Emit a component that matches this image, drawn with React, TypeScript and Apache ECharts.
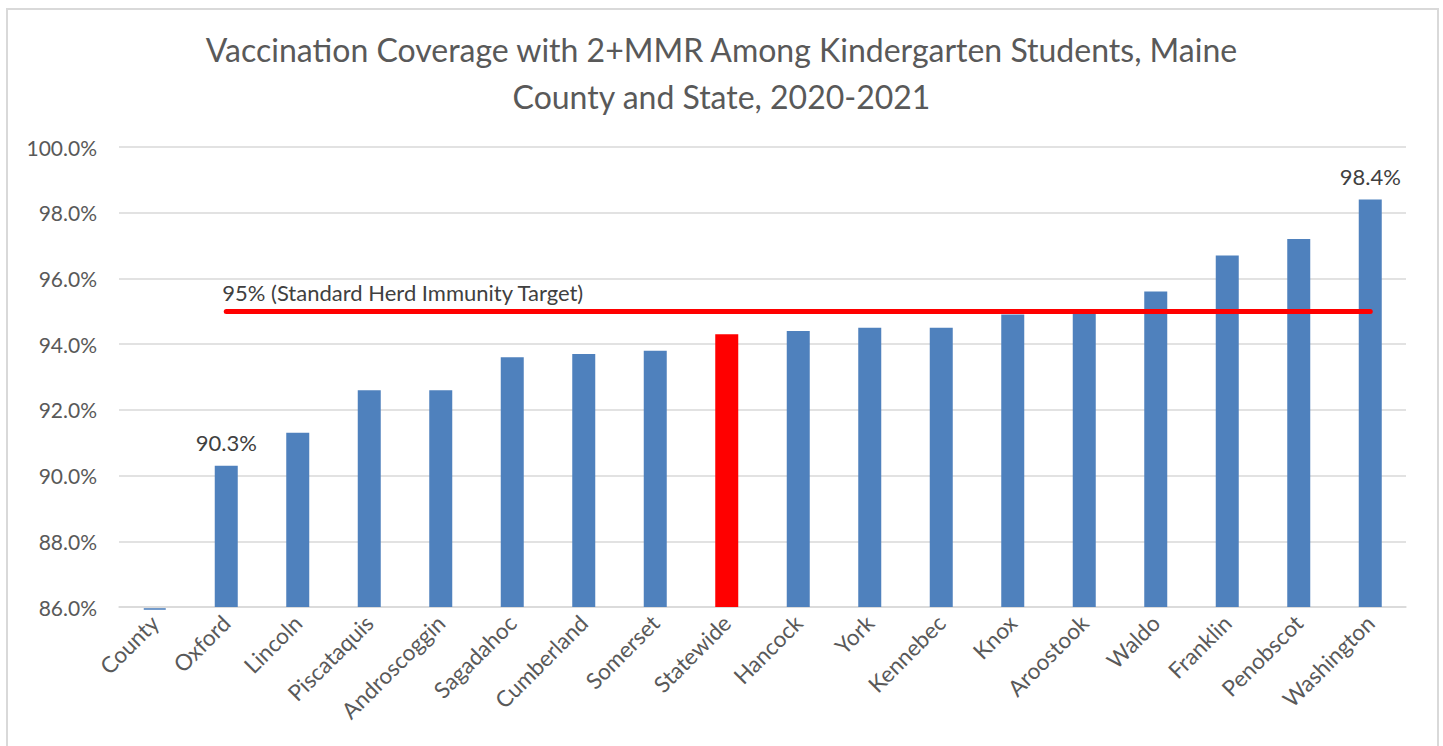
import React, { useEffect, useRef } from "react";
import * as echarts from "echarts";

const categories = [
  "County", "Oxford", "Lincoln", "Piscataquis", "Androscoggin", "Sagadahoc",
  "Cumberland", "Somerset", "Statewide", "Hancock", "York", "Kennebec",
  "Knox", "Aroostook", "Waldo", "Franklin", "Penobscot", "Washington",
];
const coverage = [
  85.94, 90.3, 91.3, 92.6, 92.6, 93.6, 93.7, 93.8, 94.3, 94.4, 94.5, 94.5,
  94.9, 95.0, 95.6, 96.7, 97.2, 98.4,
];
const yMin = 86;
const yMax = 100;
const yStep = 2;
const labeledBars = ["Oxford", "Washington"];
const highlightBar = "Statewide";
const targetValue = 95;
const targetLabel = "95% (Standard Herd Immunity Target)";
const targetStart = "Oxford";
const targetEnd = "Washington";
const titleText = "Vaccination Coverage with 2+MMR Among Kindergarten Students, Maine\nCounty and State, 2020-2021";

const FONT = "Lato, 'Open Sans', sans-serif";
const BLUE = "#4f81bd";

export default function App() {
  const ref = useRef<HTMLDivElement>(null);
  useEffect(() => {
    if (!ref.current) return;
    const chart = echarts.init(ref.current, null, { renderer: "svg" });
    const data = categories.map((c, i) => ({
      value: coverage[i],
      itemStyle: { color: c === highlightBar ? "#ff0000" : BLUE },
      label: {
        show: labeledBars.includes(c),
        position: "top",
        distance: 12,
        formatter: (p: any) => p.value.toFixed(1) + "%",
        fontSize: 22,
        color: "#404040",
        fontFamily: FONT,
      },
    }));
    // values below the axis minimum show as a thin dash just under the axis
    const belowMin = coverage.map((v) => (v < yMin ? v : null));
    chart.setOption({
      animation: false,
      backgroundColor: "#ffffff",
      textStyle: { fontFamily: FONT },
      title: {
        text: titleText,
        left: "center",
        top: 21,
        textStyle: {
          fontFamily: FONT,
          fontSize: 32,
          fontWeight: "normal",
          color: "#595959",
          lineHeight: 47,
        },
      },
      graphic: [
        {
          type: "rect",
          shape: { x: 7, y: 9, width: 1431, height: 800 },
          style: { fill: "none", stroke: "#d9d9d9", lineWidth: 2 },
          silent: true,
        },
      ],
      grid: { left: 119, right: 37, top: 147, bottom: 139, containLabel: false },
      xAxis: {
        type: "category",
        data: categories,
        axisLine: { show: true, lineStyle: { color: "#d9d9d9", width: 1.5 } },
        axisTick: { show: false },
        axisLabel: {
          rotate: 45,
          interval: 0,
          margin: 12,
          fontSize: 22.5,
          color: "#595959",
          fontFamily: FONT,
        },
      },
      yAxis: {
        type: "value",
        min: yMin,
        max: yMax,
        interval: yStep,
        axisLine: { show: false },
        axisTick: { show: false },
        splitLine: { lineStyle: { color: "#d9d9d9", width: 1.5 } },
        axisLabel: {
          margin: 22,
          fontSize: 21,
          color: "#595959",
          fontFamily: FONT,
          formatter: (v: number) => v.toFixed(1) + "%",
        },
      },
      series: [
        {
          type: "bar",
          data,
          barWidth: 23,
          markLine: {
            silent: true,
            symbol: ["none", "none"],
            lineStyle: { color: "#ff0000", width: 5, type: "solid", cap: "round" },
            label: {
              show: true,
              position: "insideStartTop",
              formatter: targetLabel,
              fontSize: 22,
              color: "#404040",
              fontFamily: FONT,
              distance: [-4, 8],
            },
            data: [[{ coord: [targetStart, targetValue] }, { coord: [targetEnd, targetValue] }]],
          },
        },
        {
          type: "scatter",
          data: belowMin,
          symbol: "rect",
          symbolSize: [22, 2],
          clip: false,
          silent: true,
          itemStyle: { color: BLUE },
          z: 3,
        },
      ],
    });
    return () => chart.dispose();
  }, []);
  return (
    <div
      ref={ref}
      style={{ position: "fixed", left: 0, top: 0, width: 1443, height: 746 }}
    />
  );
}
